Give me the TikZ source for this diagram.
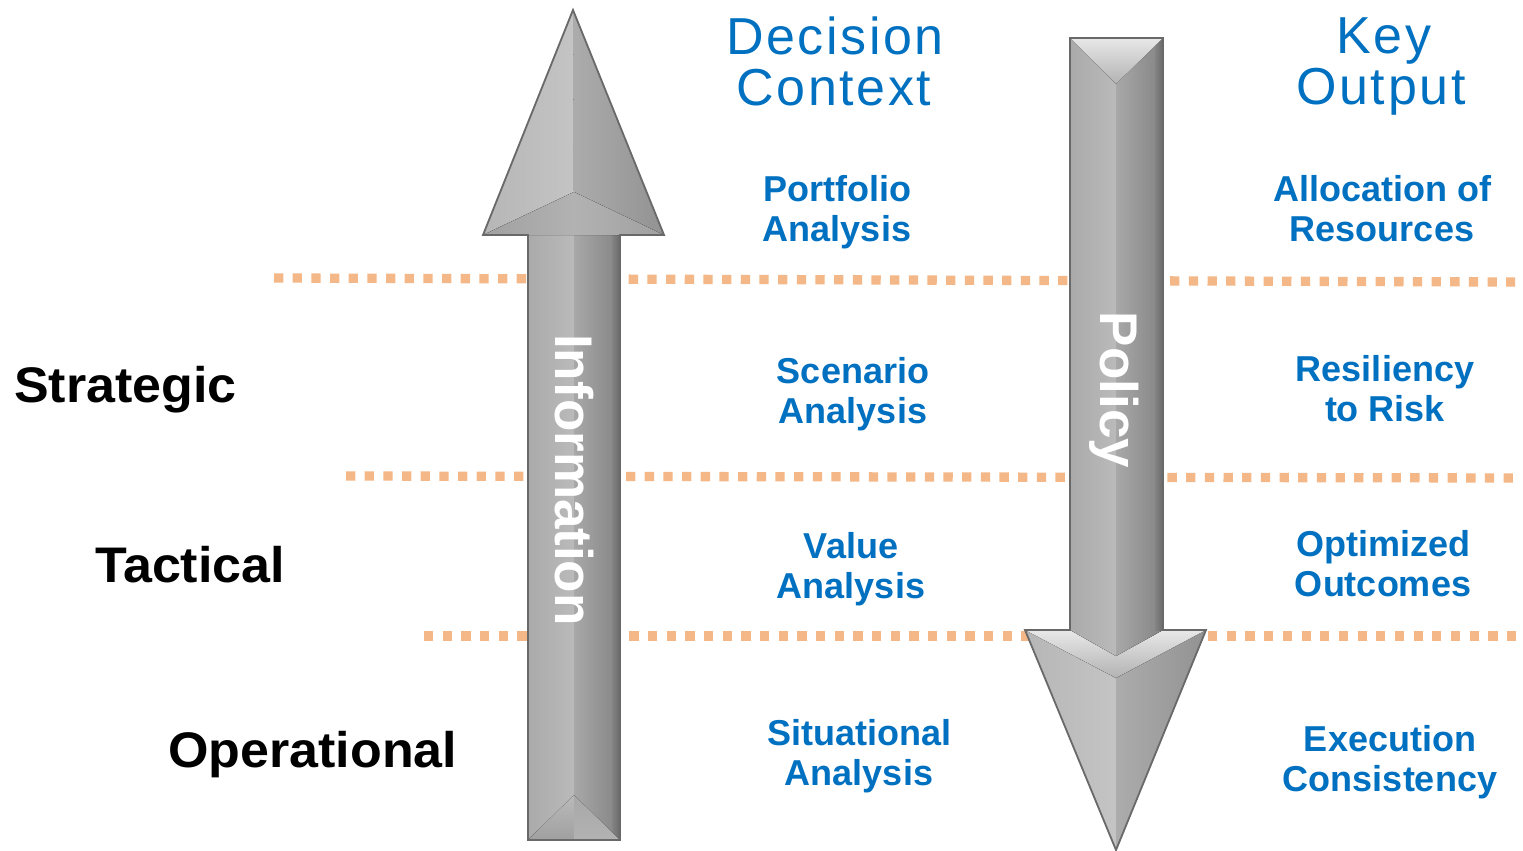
\documentclass[tikz,border=0pt]{standalone}
\usepackage{fontspec}
\setmainfont{Liberation Sans}
\newfontfamily\titlefont[LetterSpace=5]{Liberation Sans}
\definecolor{bluetxt}{RGB}{0,112,192}
\definecolor{dotorange}{RGB}{244,183,135}
\definecolor{edgegray}{RGB}{105,105,105}
\definecolor{sLa}{RGB}{170,170,170}
\definecolor{sLb}{RGB}{186,186,186}
\definecolor{sRa}{RGB}{168,168,168}
\definecolor{sRb}{RGB}{132,132,132}
\definecolor{hLa}{RGB}{196,196,196}
\definecolor{hLb}{RGB}{182,182,182}
\definecolor{hRa}{RGB}{172,172,172}
\definecolor{hRb}{RGB}{146,146,146}
\definecolor{bevlight}{RGB}{232,232,232}
\definecolor{bevmid}{RGB}{178,178,178}
\definecolor{bevdark}{RGB}{160,160,160}
\tikzset{
  dotline/.style={dotorange, line width=9.3pt, dash pattern=on 9.3pt off 9.37pt},
  titletext/.style={bluetxt, font=\titlefont\fontsize{52}{60}\selectfont, anchor=base, inner sep=0pt},
  bluelbl/.style={bluetxt, font=\bfseries\fontsize{36}{40}\selectfont, anchor=base, inner sep=0pt},
  levellbl/.style={black, font=\bfseries\fontsize{50}{56}\selectfont, anchor=base west, inner sep=0pt, xscale=1.04},
  arrowlbl/.style={white, font=\bfseries\fontsize{53}{60}\selectfont, anchor=base, inner sep=0pt, rotate=-90},
  arrowedge/.style={draw=edgegray, line width=1.8pt, line join=miter},
}
\begin{document}
\begin{tikzpicture}[x=1pt,y=-1pt]
\useasboundingbox (0,0) rectangle (1523,851);
\fill[white] (0,0) rectangle (1523,851);

% dotted separators
\coordinate (d1a) at (274,278); \coordinate (d1b) at (1515,282);
\coordinate (d2a) at (346,476); \coordinate (d2b) at (1522,478);
\coordinate (d3a) at (424,636); \coordinate (d3b) at (1516,636);
\draw[dotline] (d1a) -- (d1b);
\draw[dotline] (d2a) -- (d2b);
\draw[dotline] (d3a) -- (d3b);

% ---------- Information arrow (up) ----------
\coordinate (ut) at (573,10);
\coordinate (ubl) at (483,235);
\coordinate (ubr) at (664,235);
\coordinate (uv) at (574,192);
% shaft
\fill[left color=sLa, right color=sLb] (528,235) rectangle (574,840);
\fill[left color=sRa, right color=sRb] (574,235) rectangle (620,840);
\fill[left color=sRb, right color=edgegray] (612,235) rectangle (620,840);
% bottom bevel
\fill[top color=sLb, bottom color=bevdark] (528,840) -- (574,795) -- (574,840) -- cycle;
\fill[top color=sRa, bottom color=bevmid] (620,840) -- (574,795) -- (574,840) -- cycle;
% head facets
\fill[left color=hLb, right color=hLa] (ut) -- (ubl) -- (uv) -- cycle;
\fill[left color=hRa, right color=hRb] (ut) -- (ubr) -- (uv) -- cycle;
\fill[left color=bevdark, right color=bevmid] (ubl) -- (uv) -- (574,235) -- cycle;
\fill[left color=bevmid, right color=bevdark] (ubr) -- (uv) -- (574,235) -- cycle;
\draw[arrowedge] (ut) -- (ubr) -- (620,235) -- (620,840) -- (528,840) -- (528,235) -- (ubl) -- cycle;

% ---------- Policy arrow (down) ----------
\coordinate (dtl) at (1070,38);
\coordinate (dtr) at (1163,38);
\coordinate (dhl) at (1025,630);
\coordinate (dhr) at (1206,630);
\coordinate (dtip) at (1116,850);
\coordinate (dv) at (1116,678);
% head facets
\fill[left color=hLb, right color=hLa] (dhl) -- (dv) -- (dtip) -- cycle;
\fill[left color=hRa, right color=hRb] (dhr) -- (dv) -- (dtip) -- cycle;
\fill[top color=bevlight, bottom color=bevmid] (dhl) -- (1070,630) -- (1116,656) -- (1163,630) -- (dhr) -- (dv) -- cycle;
% shaft
\fill[left color=sLa, right color=sLb] (1070,38) -- (1116,38) -- (1116,656) -- (1070,630) -- cycle;
\fill[left color=sRa, right color=sRb] (1116,38) -- (1163,38) -- (1163,630) -- (1116,656) -- cycle;
\fill[left color=sRb, right color=edgegray] (1155,38) rectangle (1163,630);
% top bevel
\fill[top color=bevlight, bottom color=bevmid] (dtl) -- (dtr) -- (1116,84) -- cycle;
\draw[arrowedge] (dtl) -- (dtr) -- (1163,630) -- (dhr) -- (dtip) -- (dhl) -- (1070,630) -- cycle;

% arrow labels
\node[arrowlbl] (info) at (555,480) {Information};
\node[arrowlbl] (policy) at (1100,390) {Policy};

% column titles
\node[titletext] (dc1) at (835,55) {Decision};
\node[titletext] (dc2) at (834,105) {Context};
\node[titletext] (ko1) at (1384,54) {Key};
\node[titletext] (ko2) at (1381,104) {Output};

% level labels
\node[levellbl] (strat) at (14,402) {Strategic};
\node[levellbl] (tact) at (95,582) {Tactical};
\node[levellbl] (oper) at (168,767) {Operational};

% decision context labels
\node[bluelbl] (pa1) at (837,201) {Portfolio};
\node[bluelbl] (pa2) at (837,241) {Analysis};
\node[bluelbl] (sa1) at (853,383) {Scenario};
\node[bluelbl] (sa2) at (853,423) {Analysis};
\node[bluelbl] (va1) at (851,558) {Value};
\node[bluelbl] (va2) at (851,598) {Analysis};
\node[bluelbl] (si1) at (859,745) {Situational};
\node[bluelbl] (si2) at (859,785) {Analysis};

% key output labels
\node[bluelbl] (al1) at (1382,201) {Allocation of};
\node[bluelbl] (al2) at (1382,241) {Resources};
\node[bluelbl] (re1) at (1385,381) {Resiliency};
\node[bluelbl] (re2) at (1385,421) {to Risk};
\node[bluelbl] (op1) at (1383,556) {Optimized};
\node[bluelbl] (op2) at (1383,596) {Outcomes};
\node[bluelbl] (ex1) at (1390,751) {Execution};
\node[bluelbl] (ex2) at (1390,791) {Consistency};
\end{tikzpicture}
\end{document}
